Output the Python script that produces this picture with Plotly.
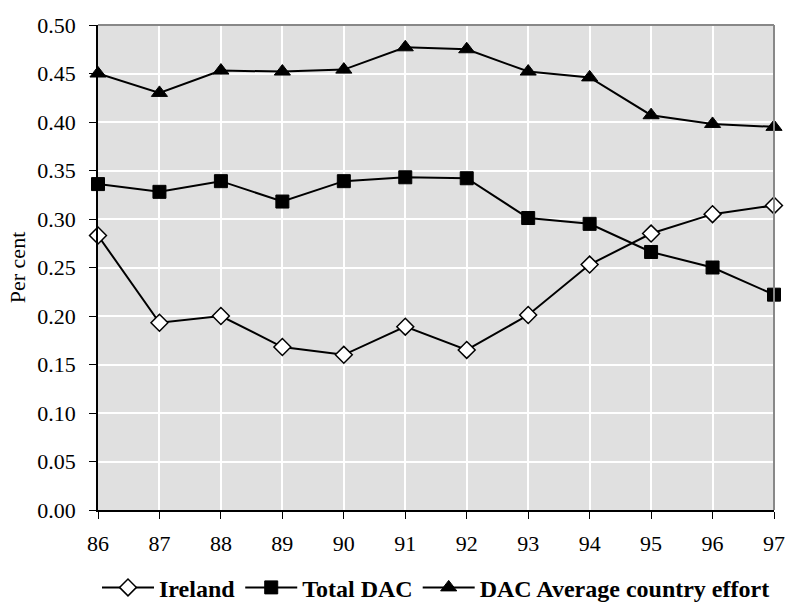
import plotly.graph_objects as go

years = ["86", "87", "88", "89", "90", "91", "92", "93", "94", "95", "96", "97"]
ireland = [0.283, 0.193, 0.200, 0.168, 0.160, 0.189, 0.165, 0.201, 0.253, 0.285, 0.305, 0.314]
total_dac = [0.336, 0.328, 0.339, 0.318, 0.339, 0.343, 0.342, 0.301, 0.295, 0.266, 0.250, 0.222]
dac_avg = [0.450, 0.430, 0.453, 0.452, 0.454, 0.477, 0.475, 0.452, 0.446, 0.407, 0.398, 0.395]
y_ticks = [0.0, 0.05, 0.10, 0.15, 0.20, 0.25, 0.30, 0.35, 0.40, 0.45, 0.50]

xs = list(range(len(years)))
font = "Liberation Serif"

fig = go.Figure()
fig.add_trace(go.Scatter(
    x=xs, y=ireland, name="Ireland", mode="lines+markers",
    line=dict(color="black", width=2),
    marker=dict(symbol="diamond", size=13, color="white", line=dict(color="black", width=1.5)),
    cliponaxis=False,
))
fig.add_trace(go.Scatter(
    x=xs, y=total_dac, name="Total DAC", mode="lines+markers",
    line=dict(color="black", width=2),
    marker=dict(symbol="square", size=13, color="black", line=dict(color="black", width=1)),
    cliponaxis=False,
))
fig.add_trace(go.Scatter(
    x=xs, y=dac_avg, name="DAC Average country effort", mode="lines+markers",
    line=dict(color="black", width=2),
    marker=dict(symbol="triangle-up", size=14, color="black", line=dict(color="black", width=1)),
    cliponaxis=False,
))

fig.update_layout(
    width=787, height=602,
    margin=dict(l=98, r=13, t=25, b=92, autoexpand=False),
    paper_bgcolor="white",
    plot_bgcolor="#E0E0E0",
    font=dict(family=font, size=22, color="black"),
    showlegend=True,
    legend=dict(
        orientation="h", x=0.5, xanchor="center", y=-0.114, yanchor="top",
        font=dict(family=font, size=24, color="black", weight="bold"),
        itemwidth=52, bgcolor="rgba(0,0,0,0)",
        traceorder="normal",
    ),
    xaxis=dict(
        range=[0, len(years) - 1],
        tickmode="array", tickvals=xs, ticktext=years,
        showgrid=True, gridcolor="white", gridwidth=2,
        showline=True, linecolor="black", linewidth=1.5,
        ticks="outside", ticklen=7, tickcolor="black",
        mirror=False, zeroline=False, automargin=False,
        ticklabelstandoff=6,
        tickfont=dict(family=font, size=22),
    ),
    yaxis=dict(
        range=[0, 0.5],
        tickmode="array", tickvals=y_ticks,
        tickformat=".2f",
        showgrid=True, gridcolor="white", gridwidth=2,
        showline=True, linecolor="black", linewidth=1.5,
        ticks="outside", ticklen=7, tickcolor="black",
        zeroline=False, automargin=False,
        ticklabelstandoff=9,
        title=dict(text="Per cent", font=dict(family=font, size=22), standoff=6),
        tickfont=dict(family=font, size=22),
    ),
    shapes=[
        dict(type="line", xref="paper", yref="paper", x0=0, x1=1, y0=1, y1=1,
             line=dict(color="#888888", width=2)),
        dict(type="line", xref="paper", yref="paper", x0=1, x1=1, y0=0, y1=1,
             line=dict(color="#888888", width=2)),
    ],
)

fig.write_html("out.html")
